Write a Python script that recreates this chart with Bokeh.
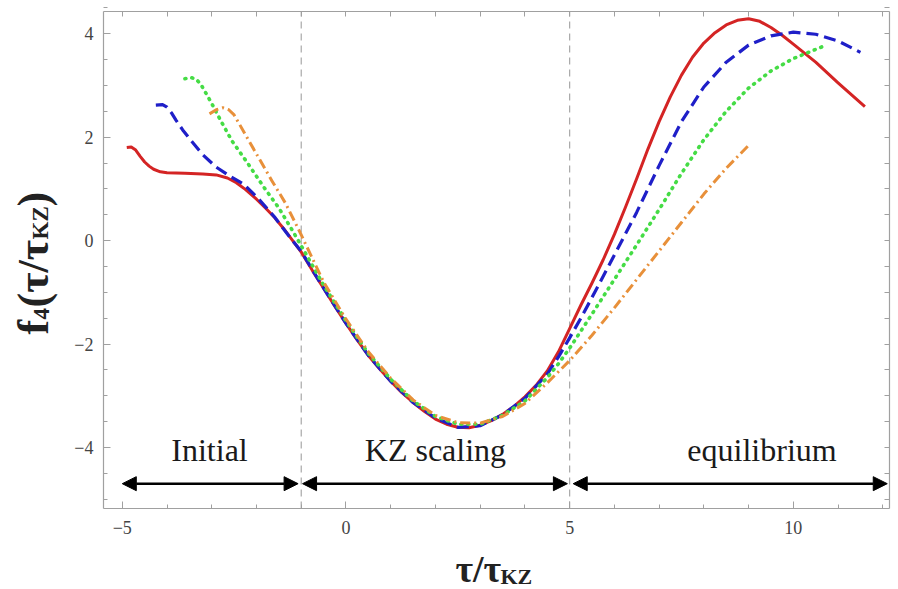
import math
import numpy as np
from bokeh.plotting import figure
from bokeh.models import Range1d, LinearAxis, Label, Arrow, NormalHead, FixedTicker
from bokeh.embed import file_html
from bokeh.resources import INLINE
from bokeh.core.properties import value

# ---------------- data ----------------
red_x = [-4.9, -4.8, -4.7, -4.6, -4.5, -4.4, -4.3, -4.15, -4.0, -3.6, -3.2, -2.9, -2.65, -2.45, -2.25,
         -2.0, -1.8, -1.6, -1.4, -1.2, -1.0, -0.75, -0.5, -0.25, 0.0, 0.25, 0.5, 0.75, 1.0, 1.25, 1.5,
         1.75, 2.0, 2.25, 2.5, 2.75, 3.0, 3.25, 3.5, 3.75, 4.0, 4.25, 4.5, 4.75, 5.0, 5.25, 5.5, 5.75,
         6.0, 6.25, 6.5, 6.75, 7.0, 7.25, 7.5, 7.75, 8.0, 8.25, 8.5, 8.75, 9.0, 9.25, 9.5, 9.75, 10.0,
         10.5, 11.0, 11.6]
red_y = [1.80, 1.81, 1.75, 1.63, 1.52, 1.44, 1.38, 1.33, 1.31, 1.30, 1.29, 1.27, 1.21, 1.12, 0.99,
         0.80, 0.63, 0.45, 0.24, 0.01, -0.22, -0.58, -0.92, -1.27, -1.60, -1.92, -2.22, -2.48, -2.72,
         -2.94, -3.13, -3.30, -3.45, -3.55, -3.61, -3.62, -3.57, -3.48, -3.36, -3.21, -3.02, -2.80,
         -2.52, -2.15, -1.70, -1.25, -0.82, -0.37, 0.12, 0.65, 1.20, 1.77, 2.30, 2.78, 3.20, 3.55, 3.82,
         4.02, 4.17, 4.26, 4.29, 4.24, 4.12, 3.97, 3.80, 3.45, 3.05, 2.59]

blue_x = [-4.25, -4.1, -4.0, -3.9, -3.8, -3.65, -3.45, -3.2, -2.9, -2.6, -2.3, -2.0, -1.6, -1.25, -1.0,
          -0.5, 0.0, 0.5, 1.0, 1.5, 2.0, 2.5, 3.0, 3.5, 4.0, 4.5, 4.75, 5.0, 5.25, 5.5, 6.0, 6.5, 7.0,
          7.5, 8.0, 8.5, 9.0, 9.5, 10.0, 10.5, 11.0, 11.5]
blue_y = [2.62, 2.63, 2.58, 2.47, 2.33, 2.14, 1.92, 1.66, 1.42, 1.25, 1.10, 0.85, 0.46, 0.06, -0.21,
          -0.92, -1.60, -2.22, -2.72, -3.13, -3.43, -3.61, -3.58, -3.37, -3.05, -2.58, -2.25, -1.88,
          -1.50, -1.10, -0.28, 0.55, 1.45, 2.30, 2.97, 3.45, 3.78, 3.96, 4.03, 3.99, 3.86, 3.64]

green_x = [-3.6, -3.45, -3.35, -3.25, -3.15, -3.0, -2.8, -2.55, -2.2, -1.85, -1.5, -1.2, -1.0, -0.5,
           0.0, 0.5, 1.0, 1.5, 2.0, 2.5, 3.0, 3.5, 4.0, 4.5, 4.75, 5.0, 5.5, 6.0, 6.5, 7.0, 7.5, 8.0,
           8.5, 9.0, 9.5, 10.0, 10.65]
green_y = [3.13, 3.15, 3.12, 3.03, 2.88, 2.65, 2.32, 1.93, 1.50, 1.05, 0.63, 0.20, -0.10, -0.86,
           -1.55, -2.18, -2.68, -3.10, -3.40, -3.55, -3.55, -3.38, -3.10, -2.65, -2.38, -2.08, -1.42,
           -0.75, -0.08, 0.60, 1.30, 1.95, 2.50, 2.95, 3.28, 3.52, 3.75]

orange_x = [-3.05, -2.9, -2.75, -2.62, -2.5, -2.38, -2.25, -1.95, -1.65, -1.35, -1.05, -0.5, 0.0, 0.5,
            1.0, 1.5, 2.0, 2.5, 3.0, 3.5, 4.0, 4.5, 5.0, 5.5, 6.0, 6.5, 7.0, 7.5, 8.0, 8.5, 9.0]
orange_y = [2.45, 2.53, 2.57, 2.53, 2.43, 2.25, 2.05, 1.60, 1.15, 0.72, 0.20, -0.80, -1.52, -2.15,
            -2.66, -3.08, -3.38, -3.52, -3.53, -3.40, -3.15, -2.75, -2.32, -1.83, -1.30, -0.75, -0.20,
            0.35, 0.90, 1.40, 1.84]

region_names = ["Initial", "KZ scaling", "equilibrium"]
region_label_x = [-3.05, 2.0, 9.3]
region_label_y = [-4.05, -4.05, -4.05]
region_start = [-5.0, -0.97, 5.08]
region_end = [-1.07, 4.95, 12.1]
region_arrow_y = -4.70
region_boundaries = [-1, 5]

x_ticks = [-5, 0, 5, 10]
y_ticks = [-4, -2, 0, 2, 4]

# ---------------- geometry ----------------
X0, X1 = -5.42, 12.15          # plotted box (data)
Y0, Y1 = -5.18, 4.43
FW, FH = 786, 497              # plotted box size (px)
FL, FT = 103, 11               # plotted box left/top (px)
W, H = 898, 589                # canvas


def px2x(px):
    return X0 + (px - FL) * (X1 - X0) / FW


def py2y(py):
    return Y1 - (py - FT) * (Y1 - Y0) / FH


# the frame covers the whole canvas; axes are fixed at the box edges
p = figure(frame_width=W, frame_height=H,
           x_range=Range1d(px2x(0), px2x(W)), y_range=Range1d(py2y(H), py2y(0)),
           output_backend="svg", toolbar_location=None,
           min_border=0, min_border_left=0, min_border_right=0, min_border_top=0, min_border_bottom=0)
p.grid.visible = False
p.outline_line_color = None
p.background_fill_color = "white"
p.border_fill_color = "white"

SERIF = "Liberation Serif"
AX_COL = "#a0a0a0"

x_minor = list(np.arange(-5, 13, 1.0))
y_minor = list(np.arange(-5.0, 4.6, 0.5))


def style(ax):
    ax.axis_line_color = AX_COL
    ax.axis_line_width = 1.2
    ax.major_tick_line_color = AX_COL
    ax.minor_tick_line_color = AX_COL
    ax.major_tick_in = 7
    ax.major_tick_out = 0
    ax.minor_tick_in = 4
    ax.minor_tick_out = 0
    ax.major_label_text_font = SERIF
    ax.major_label_text_font_size = "18px"
    ax.major_label_text_color = "#444444"
    ax.major_label_standoff = 10


xb = p.xaxis[0]
yl = p.yaxis[0]
xb.ticker = FixedTicker(ticks=x_ticks, minor_ticks=x_minor)
yl.ticker = FixedTicker(ticks=y_ticks, minor_ticks=y_minor)
xb.fixed_location = Y0
yl.fixed_location = X0
xb.bounds = (X0, X1)
yl.bounds = (Y0, Y1)
style(xb)
style(yl)
xb.major_label_standoff = 12
xb.major_label_overrides = {t: (str(t).replace("-", "\u2212")) for t in x_ticks}
yl.major_label_overrides = {t: (str(t).replace("-", "\u2212")) for t in y_ticks}

# top and right edges of the box: tick marks only
top = LinearAxis(ticker=FixedTicker(ticks=[], minor_ticks=x_minor), fixed_location=Y1, bounds=(X0, X1))
right = LinearAxis(ticker=FixedTicker(ticks=[], minor_ticks=y_minor), fixed_location=X1, bounds=(Y0, Y1))
style(top)
style(right)
top.minor_tick_in = 5
right.minor_tick_in = 5
p.add_layout(top, "above")
p.add_layout(right, "right")

# region boundaries (dashed, inside the box)
p.segment(x0=region_boundaries, y0=[Y0] * len(region_boundaries),
          x1=region_boundaries, y1=[Y1] * len(region_boundaries),
          line_color="#a8a8a8", line_dash="7 5", line_width=1.2)

# curves
p.line(red_x, red_y, line_color="#d42424", line_width=3, line_join="round")
p.line(blue_x, blue_y, line_color="#1f1fc8", line_width=3.2, line_dash="12 6", line_join="round")
p.line(green_x, green_y, line_color="#45dc45", line_width=3.6, line_dash="1 6", line_cap="round",
       line_join="round")
p.line(orange_x, orange_y, line_color="#e8903a", line_width=3, line_dash="10 4 2 4", line_join="round")

# region arrows and texts
for s, e in zip(region_start, region_end):
    p.add_layout(Arrow(start=NormalHead(size=14, fill_color="black", line_color="black"),
                       end=NormalHead(size=14, fill_color="black", line_color="black"),
                       x_start=s, y_start=region_arrow_y, x_end=e, y_end=region_arrow_y,
                       line_color="black", line_width=2.5))
p.text(x=region_label_x, y=region_label_y, text=region_names, text_font=value(SERIF),
       text_font_size="32px", text_align="center", text_baseline="middle", text_color="#1a1a1a")

# axis titles, built from pieces so that subscripts can be drawn
MAIN, SUB = "44px", "23px"
for t, bx, by, fs in [("τ/τ", 455, 568, "38px"), ("KZ", 500, 576, "22px")]:
    p.add_layout(Label(x=px2x(bx), y=py2y(by), text=t, text_font=SERIF, text_font_style="bold",
                       text_font_size=fs, text_align="left", text_baseline="middle",
                       text_color="#222222"))
ang = math.pi / 2
pieces = [("f", 33, 334, MAIN), ("4", 41, 319, SUB), ("(τ/τ", 33, 307, MAIN),
          ("KZ", 40, 239, SUB), (")", 33, 206, MAIN)]
for t, bx, by, fs in pieces:
    p.add_layout(Label(x=px2x(bx), y=py2y(by), text=t, angle=ang, text_font=SERIF,
                       text_font_style="bold", text_font_size=fs, text_align="left",
                       text_baseline="middle", text_color="#222222"))

open("out.html", "w").write(file_html(p, INLINE))
